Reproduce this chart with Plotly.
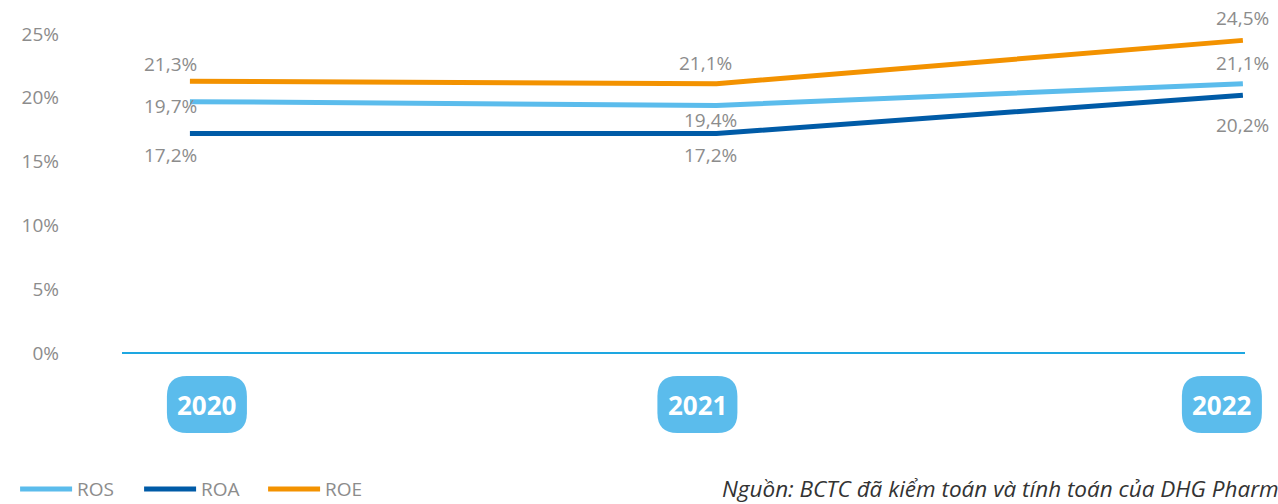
import plotly.graph_objects as go

years = [2020, 2021, 2022]
year_labels = ["2020", "2021", "2022"]
ros = [19.7, 19.4, 21.1]
roa = [17.2, 17.2, 20.2]
roe = [21.3, 21.1, 24.5]
series_names = ["ROS", "ROA", "ROE"]
y_ticks = [0, 5, 10, 15, 20, 25]
y_tick_text = ["0%", "5%", "10%", "15%", "20%", "25%"]
source_text = "Nguồn: BCTC đã kiểm toán và tính toán của DHG Pharma"

colors = {"ROS": "#5bbcec", "ROA": "#005ba7", "ROE": "#f39200"}
gray = "#8c8c8c"
FONT = "Open Sans"

X_RANGE = [2019.871, 2022.004]

data = {"ROS": ros, "ROA": roa, "ROE": roe}
# label offsets (pixels) per series per year: (xshift, yshift)
label_shift = {
    "ROE": [(-19, 17), (-11, 21), (0, 22)],
    "ROS": [(-19, -4), (-6, -15), (0, 21)],
    "ROA": [(-19, -21), (-6, -21), (0, -30)],
}
badge_xoff = [17, -19, -21]

def fmt(v):
    return f"{v:.1f}".replace(".", ",") + "%"

def to_paper_x(v):
    return (v - X_RANGE[0]) / (X_RANGE[1] - X_RANGE[0])

fig = go.Figure()
for name in series_names:
    fig.add_trace(go.Scatter(
        x=years, y=data[name], mode="lines", name=name,
        line=dict(color=colors[name], width=5),
        hoverinfo="skip",
    ))

annotations = []
for name in series_names:
    for i, (x, v) in enumerate(zip(years, data[name])):
        dx, dy = label_shift[name][i]
        annotations.append(dict(
            x=x, y=v, xref="x", yref="y", text=fmt(v), showarrow=False,
            xshift=dx, yshift=dy, xanchor="center", yanchor="middle",
            font=dict(family=FONT, size=19, color=gray),
        ))

shapes = []
w, h, r = 40, 28.5, 20
for i, x in enumerate(years):
    cx, cy = badge_xoff[i], -51.5
    path = (f"M{cx-w+r},{cy-h} L{cx+w-r},{cy-h} Q{cx+w},{cy-h} {cx+w},{cy-h+r} "
            f"L{cx+w},{cy+h-r} Q{cx+w},{cy+h} {cx+w-r},{cy+h} L{cx-w+r},{cy+h} "
            f"Q{cx-w},{cy+h} {cx-w},{cy+h-r} L{cx-w},{cy-h+r} Q{cx-w},{cy-h} {cx-w+r},{cy-h} Z")
    shapes.append(dict(
        type="path", xref="paper", yref="paper", xsizemode="pixel", ysizemode="pixel",
        xanchor=to_paper_x(x), yanchor=0, path=path, fillcolor="#5bbcec",
        line=dict(width=0), layer="above",
    ))
    annotations.append(dict(
        x=x, y=0, xref="x", yref="y", text=f"<b>{year_labels[i]}</b>", showarrow=False,
        xshift=cx, yshift=cy, xanchor="center", yanchor="middle",
        font=dict(family=FONT, size=26, color="white"),
    ))

annotations.append(dict(
    x=0.5325, y=-0.426, xref="paper", yref="paper", text=source_text,
    showarrow=False, xanchor="left", yanchor="middle",
    font=dict(family=FONT, size=22.5, color="#333333", style="italic"),
))

fig.update_layout(
    width=1278, height=504,
    margin=dict(l=122, r=33, t=34, b=151, autoexpand=False),
    paper_bgcolor="white", plot_bgcolor="white",
    showlegend=True,
    legend=dict(
        orientation="h", x=-0.0952, xanchor="left", y=-0.427, yanchor="middle",
        font=dict(family=FONT, size=19, color=gray),
        entrywidth=57, entrywidthmode="pixels", itemwidth=52,
        bgcolor="rgba(0,0,0,0)",
    ),
    xaxis=dict(range=X_RANGE, showgrid=False, zeroline=False,
               showticklabels=False, showline=False, fixedrange=True),
    yaxis=dict(range=[0, 25], tickvals=y_ticks, ticktext=y_tick_text,
               showgrid=False, zeroline=True, zerolinecolor="#1ea7e1", zerolinewidth=1.5,
               showline=False, ticks="", ticklabelstandoff=62, fixedrange=True,
               tickfont=dict(family=FONT, size=19, color=gray)),
    annotations=annotations,
    shapes=shapes,
)

fig.write_html(
    "out.html",
    config={"displayModeBar": False},
    post_script="document.body.style.margin='0';document.body.style.overflow='hidden';",
)
